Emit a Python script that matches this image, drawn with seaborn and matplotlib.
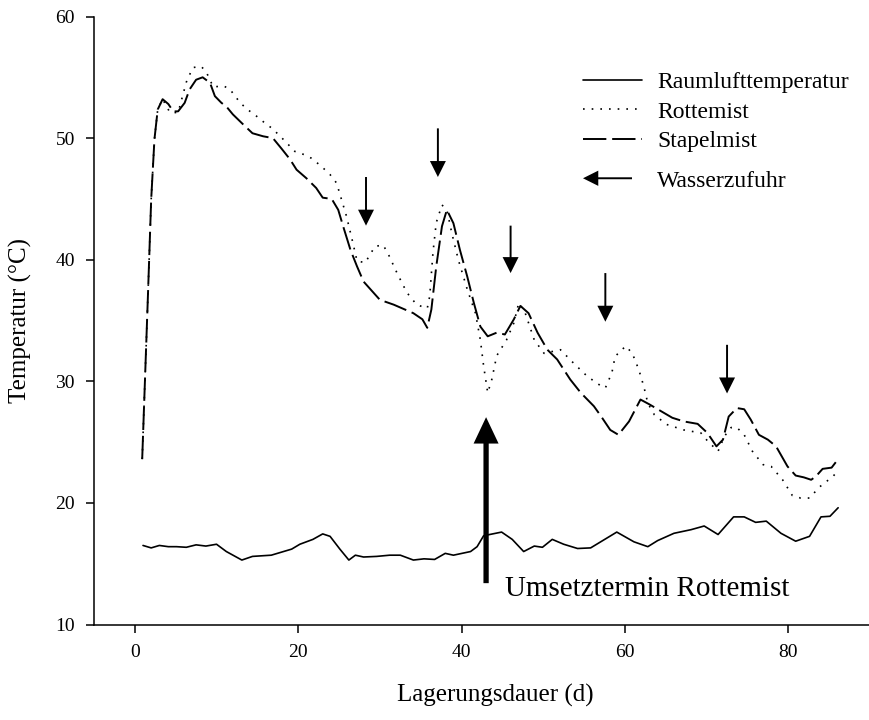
import matplotlib
matplotlib.use("Agg")
import matplotlib.pyplot as plt
import pandas as pd
import seaborn as sns
from matplotlib.lines import Line2D
from matplotlib.patches import FancyArrowPatch
from matplotlib.legend_handler import HandlerBase

# ---------------- data ----------------
raum_day = [1.0, 2.0, 3.0, 4.1, 5.1, 6.3, 7.5, 8.7, 10.0, 11.2, 13.1, 14.4, 16.7, 18.2, 19.2,
            20.2, 21.8, 23.0, 23.9, 25.1, 26.2, 27.0, 28.0, 29.6, 31.2, 32.5, 34.1, 35.4, 36.7,
            38.0, 39.0, 41.1, 41.9, 42.7, 44.9, 46.2, 47.6, 48.9, 49.9, 51.1, 52.5, 54.2, 55.8,
            57.4, 59.0, 61.1, 62.8, 64.0, 66.0, 68.1, 69.7, 71.4, 73.3, 74.6, 76.0, 77.3, 79.1,
            80.9, 82.6, 84.0, 85.1, 86.1]
raum_temp = [16.5, 16.3, 16.5, 16.4, 16.4, 16.35, 16.55, 16.45, 16.6, 16.0, 15.3, 15.6, 15.7, 16.0, 16.2,
             16.6, 17.0, 17.45, 17.25, 16.2, 15.3, 15.7, 15.55, 15.6, 15.7, 15.7, 15.3, 15.4, 15.35,
             15.85, 15.7, 16.0, 16.4, 17.3, 17.6, 17.0, 16.0, 16.45, 16.35, 17.0, 16.6, 16.25, 16.3,
             16.95, 17.6, 16.8, 16.4, 16.9, 17.5, 17.8, 18.1, 17.4, 18.85, 18.85, 18.4, 18.5, 17.5,
             16.85, 17.25, 18.85, 18.9, 19.6]

rotte_day = [0.9, 1.6, 2.0, 2.4, 2.8, 3.4, 4.3, 5.3, 6.3, 7.1, 8.1, 8.7, 9.6, 10.8, 11.6,
             12.9, 13.8, 14.9, 15.9, 16.8, 17.8, 18.6, 19.6, 20.7, 21.6, 22.8, 23.9, 24.7, 25.3, 25.9,
             26.6, 27.2, 28.2, 29.4, 30.4, 31.0, 32.1, 33.3, 34.5, 35.8, 36.1, 36.5, 36.9, 37.6, 38.2,
             38.8, 39.6, 40.7, 41.7, 42.3, 42.7, 43.2, 43.7, 44.3, 45.5, 46.4, 47.0, 47.8, 48.9, 50.1,
             52.1, 53.7, 55.4, 57.1, 57.6, 58.4, 58.8, 60.1, 60.9, 61.7, 62.3, 62.8, 63.6, 65.1, 67.2,
             69.3, 70.1, 71.4, 72.2, 73.0, 73.7, 74.6, 75.6, 76.9, 77.9, 79.3, 80.5, 81.5, 82.6, 83.8,
             85.5, 86.0]
rotte_temp = [23.6, 37.0, 44.95, 49.9, 52.35, 53.2, 52.1, 52.1, 54.6, 55.8, 55.9, 55.5, 54.2, 54.3, 54.05,
              52.9, 52.35, 51.8, 51.25, 50.8, 50.15, 49.6, 48.9, 48.65, 48.35, 47.7, 47.0, 46.3, 44.95, 43.6,
              41.65, 39.9, 39.75, 41.1, 41.2, 40.5, 38.9, 37.3, 36.3, 36.0, 37.0, 40.6, 43.05, 44.5, 44.1,
              42.2, 40.0, 37.55, 35.6, 33.4, 31.25, 29.05, 30.15, 32.1, 33.4, 34.8, 36.45, 35.6, 33.4, 32.3,
              32.6, 31.5, 30.4, 29.6, 29.45, 30.7, 32.05, 32.9, 32.3, 30.95, 29.6, 28.2, 27.25, 26.45, 26.0,
              25.75, 25.1, 24.25, 25.5, 26.2, 26.2, 25.6, 24.25, 23.15, 23.0, 21.9, 20.6, 20.4, 20.4, 21.3,
              22.2, 22.6]

stapel_day = [0.9, 1.6, 2.0, 2.4, 2.8, 3.4, 4.1, 4.7, 5.3, 6.1, 6.7, 7.5, 8.3, 9.2, 9.8,
              10.6, 11.2, 12.0, 13.3, 14.4, 15.7, 16.9, 18.0, 19.0, 19.8, 21.0, 22.2, 23.0, 24.1, 24.9,
              25.5, 26.4, 27.2, 28.0, 29.6, 30.0, 31.7, 34.1, 35.2, 35.8, 36.3, 36.9, 37.6, 38.2, 39.0,
              39.8, 40.7, 41.5, 42.3, 43.2, 44.3, 45.3, 46.4, 47.2, 48.2, 49.3, 50.5, 51.7, 53.3, 54.6,
              56.2, 57.1, 58.2, 59.2, 60.5, 61.9, 63.0, 64.4, 65.8, 67.2, 68.9, 70.1, 71.2, 72.0, 72.7,
              73.7, 74.6, 75.4, 76.4, 77.5, 78.5, 79.9, 80.9, 81.9, 82.8, 83.4, 84.2, 85.3, 86.1]
stapel_temp = [23.6, 37.0, 44.95, 49.9, 52.35, 53.2, 52.8, 52.2, 52.2, 52.9, 54.0, 54.8, 55.0, 54.55, 53.45,
               52.9, 52.6, 51.95, 51.1, 50.4, 50.15, 50.0, 49.1, 48.25, 47.4, 46.7, 45.9, 45.1, 45.0, 44.1,
               42.75, 40.8, 39.45, 38.2, 37.0, 36.7, 36.3, 35.6, 35.1, 34.4, 35.9, 39.45, 42.75, 44.1, 43.0,
               40.8, 38.6, 36.45, 34.5, 33.7, 34.0, 33.85, 35.1, 36.2, 35.6, 34.0, 32.6, 31.8, 30.15, 29.05,
               27.95, 27.1, 26.0, 25.6, 26.7, 28.5, 28.1, 27.55, 27.0, 26.7, 26.5, 25.75, 24.65, 25.2, 27.1,
               27.8, 27.7, 26.85, 25.6, 25.2, 24.65, 23.0, 22.25, 22.1, 21.9, 22.2, 22.8, 22.9, 23.6]

# water supply arrows (day, arrow tail temp, arrow tip temp)
wasser_day = [28.3, 37.1, 46.0, 57.6, 72.5]
wasser_tail = [46.8, 50.8, 42.8, 38.9, 33.0]
wasser_tip = [42.8, 46.8, 38.9, 34.9, 29.0]

umsetz_day = 43.0
umsetz_tail = 13.4
umsetz_tip = 27.05
umsetz_label = "Umsetztermin Rottemist"

series_labels = ["Raumlufttemperatur", "Rottemist", "Stapelmist", "Wasserzufuhr"]
x_ticks = [0, 20, 40, 60, 80]
y_ticks = [10, 20, 30, 40, 50, 60]

# ---------------- style ----------------
sns.set_style("ticks")
plt.rcParams["font.family"] = ["Liberation Serif", "DejaVu Serif"]
plt.rcParams["text.color"] = "black"
plt.rcParams["axes.labelcolor"] = "black"

fig = plt.figure(figsize=(8.7, 7.2), dpi=100)
ax = fig.add_axes([94 / 870, 95.5 / 720, 776 / 870, 608 / 720])

DOT = (0, (1, 4.2))
DASH = (0, (12, 3))

df_raum = pd.DataFrame({"day": raum_day, "temp": raum_temp})
df_rotte = pd.DataFrame({"day": rotte_day, "temp": rotte_temp})
df_stapel = pd.DataFrame({"day": stapel_day, "temp": stapel_temp})

sns.lineplot(data=df_raum, x="day", y="temp", ax=ax, color="black", lw=1.2,
             estimator=None, sort=False, legend=False)
sns.lineplot(data=df_rotte, x="day", y="temp", ax=ax, color="black", lw=1.2,
             linestyle=DOT, estimator=None, sort=False, legend=False)
sns.lineplot(data=df_stapel, x="day", y="temp", ax=ax, color="black", lw=1.4,
             linestyle=DASH, estimator=None, sort=False, legend=False)

for d, t0, t1 in zip(wasser_day, wasser_tail, wasser_tip):
    ax.annotate("", xy=(d, t1), xytext=(d, t0),
                arrowprops=dict(width=1.4, headwidth=11.5, headlength=11.5,
                                facecolor="black", edgecolor="black", lw=0, shrink=0))

ax.annotate("", xy=(umsetz_day, umsetz_tip), xytext=(umsetz_day, umsetz_tail),
            arrowprops=dict(width=3.8, headwidth=18, headlength=19,
                            facecolor="black", edgecolor="black", lw=0, shrink=0))
ax.text(45.3, 12.9, umsetz_label, fontsize=21, va="center", ha="left", color="black")

ax.set_xlim(-5, 90)
ax.set_ylim(10, 60)
ax.set_xticks(x_ticks)
ax.set_yticks(y_ticks)
ax.tick_params(axis="both", direction="out", length=5.8, width=1.1, labelsize=14,
               color="black", labelcolor="black")
ax.tick_params(axis="x", pad=8)
ax.tick_params(axis="y", pad=8)
for s in ["top", "right"]:
    ax.spines[s].set_visible(False)
for s in ["left", "bottom"]:
    ax.spines[s].set_linewidth(1.1)
    ax.spines[s].set_color("black")

ax.set_xlabel("Lagerungsdauer (d)", fontsize=18, color="black")
ax.set_ylabel("Temperatur (°C)", fontsize=18, color="black")
ax.xaxis.set_label_coords(0.517, -0.098)
ax.yaxis.set_label_coords(-0.080, 0.5)


class WaterArrow:
    pass


class HandlerWaterArrow(HandlerBase):
    def create_artists(self, legend, orig_handle, xdescent, ydescent, width, height,
                       fontsize, trans):
        y = -ydescent + height / 2
        x0 = -xdescent
        arr = FancyArrowPatch((x0 + width * 0.83, y), (x0, y),
                              arrowstyle="simple,head_length=1.1,head_width=1.1,tail_width=0.14",
                              mutation_scale=10, color="black", lw=0,
                              shrinkA=0, shrinkB=0, transform=trans)
        return [arr]


line_handles = [Line2D([], [], color="black", lw=1.2),
                Line2D([], [], color="black", lw=1.2, linestyle=DOT),
                Line2D([], [], color="black", lw=1.4, linestyle=DASH)]
common = dict(loc="upper left", bbox_transform=fig.transFigure, frameon=False,
              fontsize=17, handlelength=2.5, handletextpad=0.65, labelspacing=0.34,
              borderpad=0, borderaxespad=0, labelcolor="black")
leg1 = ax.legend(line_handles, series_labels[:3],
                 bbox_to_anchor=(583 / 870, 1 - 71.5 / 720), **common)
ax.add_artist(leg1)
ax.legend([WaterArrow()], series_labels[3:],
          bbox_to_anchor=(583 / 870, 1 - 170 / 720),
          handler_map={WaterArrow: HandlerWaterArrow()}, **common)

fig.savefig("out.png", dpi=100)
